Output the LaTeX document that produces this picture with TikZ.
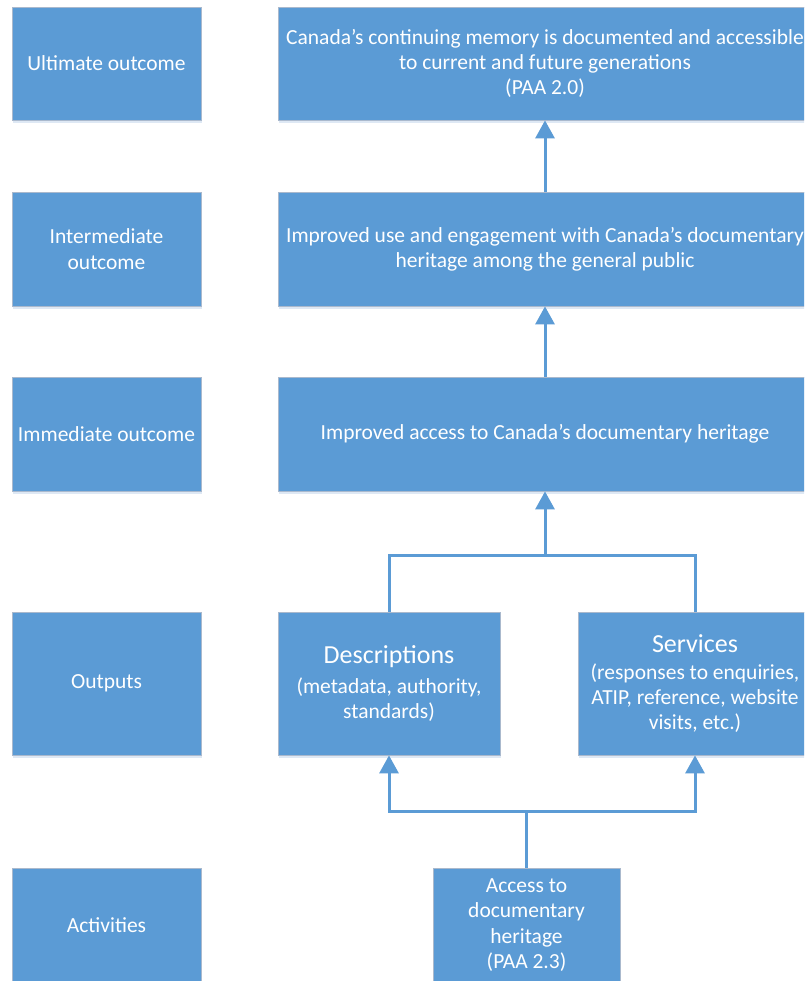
\documentclass[tikz,border=0pt]{standalone}
\usepackage{fontspec}
\setmainfont{Carlito}
\usetikzlibrary{arrows.meta,shadows}
\definecolor{boxblue}{HTML}{5B9BD5}
\definecolor{boxedge}{RGB}{170,185,205}
\definecolor{shadowcol}{RGB}{190,210,235}
\tikzset{
  box/.style={rectangle, fill=boxblue, draw=boxedge, line width=0.8pt,
    text=white, align=center, inner sep=0pt,
    font=\fontsize{21.5}{25.3}\selectfont,
    drop shadow={shadow xshift=1pt, shadow yshift=-3pt, opacity=0.5, fill=shadowcol}},
  conn/.style={draw=boxblue, line width=3pt},
  arr/.style={conn, -{Triangle[width=19pt,length=18pt]}},
}
\newcommand{\bigtxt}{\fontsize{26}{30}\selectfont}
\begin{document}
\begin{tikzpicture}[x=1pt,y=-1pt]
\useasboundingbox (0,0) rectangle (804,981);
\clip (0,0) rectangle (804,981);
\fill[white] (0,0) rectangle (804,981);
% left column
\node[box, minimum width=189pt, minimum height=113pt] (l1) at (106.5,63.5) {Ultimate outcome};
\node[box, minimum width=189pt, minimum height=114pt] (l2) at (106.5,249) {Intermediate\\outcome};
\node[box, minimum width=189pt, minimum height=114pt] (l3) at (106.5,434) {Immediate outcome};
\node[box, minimum width=189pt, minimum height=143pt] (l4) at (106.5,683.5) {Outputs};
\node[box, minimum width=189pt, minimum height=114pt] (l5) at (106.5,925) {Activities};
% right column
\node[box, minimum width=534pt, minimum height=113pt] (r1) at (545,63.5)
  {Canada’s continuing memory is documented and accessible\\to current and future generations\\(PAA 2.0)};
\node[box, minimum width=534pt, minimum height=114pt] (r2) at (545,249)
  {Improved use and engagement with Canada’s documentary\\heritage among the general public};
\node[box, minimum width=534pt, minimum height=114pt] (r3) at (545,434)
  {Improved access to Canada’s documentary heritage};
\node[box, minimum width=222pt, minimum height=143pt] (desc) at (389,683.5)
  {{\bigtxt Descriptions}\\[5pt](metadata, authority,\\standards)};
\node[box, minimum width=234pt, minimum height=143pt] (serv) at (695,683.5)
  {{\bigtxt Services}\\[2pt](responses to enquiries,\\ATIP, reference, website\\visits, etc.)};
\node[box, minimum width=187pt, minimum height=114pt] (acc) at (526.5,925)
  {Access to\\documentary\\heritage\\(PAA 2.3)};
% connectors
\coordinate (j1) at (545,555);
\coordinate (j2) at (526.5,811);
\draw[arr] (r2.north) -- (r1.south);
\draw[arr] (r3.north) -- (r2.south);
\draw[conn] (desc.north) |- (j1);
\draw[conn] (serv.north) |- (j1);
\draw[arr] (j1) -- (r3.south);
\draw[arr] (acc.north) -- (j2) -| (desc.south);
\draw[arr] (j2) -| (serv.south);
\end{tikzpicture}
\end{document}
